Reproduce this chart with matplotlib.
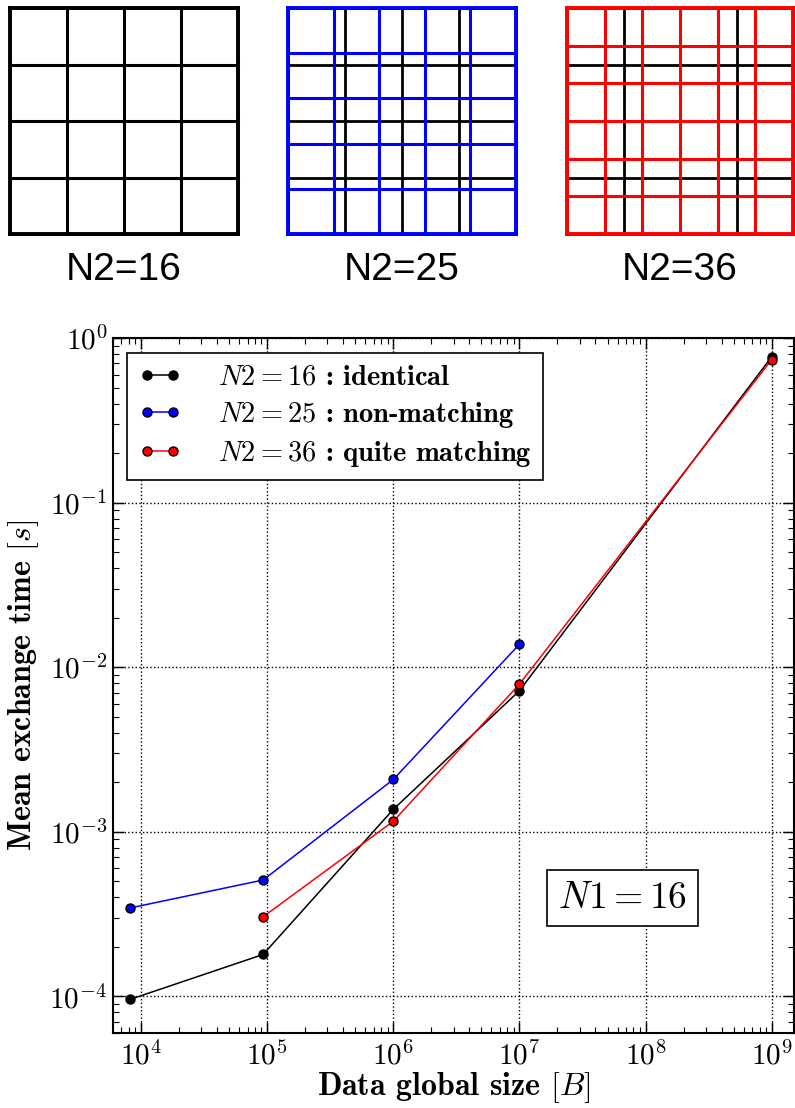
import math
import matplotlib
matplotlib.use("Agg")
import matplotlib.pyplot as plt
from matplotlib import ticker

plt.rcParams["mathtext.fontset"] = "cm"
plt.rcParams["font.family"] = ["cmb10", "DejaVu Serif"]
plt.rcParams["axes.unicode_minus"] = False

# Data
sizes = [8.2e3, 9.3e4, 1.0e6, 1.0e7, 1.0e9]
t_identical = [9.6e-5, 1.8e-4, 1.37e-3, 7.2e-3, 0.77]
sizes_nonmatch = [8.2e3, 9.3e4, 1.0e6, 1.0e7]
t_nonmatch = [3.45e-4, 5.1e-4, 2.08e-3, 1.38e-2]
sizes_quite = [9.3e4, 1.0e6, 1.0e7, 1.0e9]
t_quite = [3.05e-4, 1.16e-3, 7.9e-3, 0.74]

n1 = 4  # N1 = 16 -> 4x4
n2_side = [4, 5, 6]
n2_colors = ["black", "blue", "red"]
n2_labels = ["N2=16", "N2=25", "N2=36"]
legend_labels = [
    r"$N2=16$ : identical",
    r"$N2=25$ : non-matching",
    r"$N2=36$ : quite matching",
]

W, H = 795, 1108
fig = plt.figure(figsize=(W / 100, H / 100), dpi=100)

# Top: partition sketches
grid_boxes = [(10, 238), (288, 516), (567, 793)]
for (x0, x1), n, col, lab in zip(grid_boxes, n2_side, n2_colors, n2_labels):
    ax = fig.add_axes([x0 / W, 1 - 234 / H, (x1 - x0) / W, 226 / H])
    ax.set_xlim(0, 1)
    ax.set_ylim(0, 1)
    ax.axis("off")
    # reference partition N1 in black
    for i in range(n1 + 1):
        f = i / n1
        ax.plot([f, f], [0, 1], color="black", lw=2.0, clip_on=False)
        ax.plot([0, 1], [f, f], color="black", lw=2.0, clip_on=False)
    # N2 partition on top
    for i in range(n + 1):
        f = i / n
        lw = 2.8 if i in (0, n) else 2.2
        ax.plot([f, f], [0, 1], color=col, lw=lw, clip_on=False)
        ax.plot([0, 1], [f, f], color=col, lw=lw, clip_on=False)
    fig.text((x0 + x1) / 2 / W, 1 - 270 / H, lab, family="Liberation Sans",
             fontsize=28, ha="center", va="center")

# Bottom: timing plot
ax = fig.add_axes([113 / W, 1 - 1033 / H, 681 / W, 695 / H])
ax.loglog(sizes, t_identical, "-o", color="black", mfc="black", mec="black",
          ms=6.5, lw=1.1, label=legend_labels[0])
ax.loglog(sizes_nonmatch, t_nonmatch, "-o", color="blue", mfc="blue", mec="black",
          ms=6.5, lw=1.1, label=legend_labels[1])
ax.loglog(sizes_quite, t_quite, "-o", color="red", mfc="red", mec="black",
          ms=6.5, lw=1.1, label=legend_labels[2])

ax.set_xlim(6e3, 1.5e9)
ax.set_ylim(6e-5, 1)
pow_fmt = ticker.FuncFormatter(lambda v, p: r"$10^{%d}$" % round(math.log10(v)))
ax.xaxis.set_major_formatter(pow_fmt)
ax.yaxis.set_major_formatter(pow_fmt)
ax.xaxis.set_minor_formatter(ticker.NullFormatter())
ax.yaxis.set_minor_formatter(ticker.NullFormatter())
ax.grid(True, which="major", color="black", linestyle=":", lw=1.0)
ax.tick_params(which="both", direction="in", top=True, right=True, labelsize=21)
ax.tick_params(axis="x", pad=6)
ax.tick_params(axis="y", pad=4)
ax.tick_params(which="major", length=8, width=1.0)
ax.tick_params(which="minor", length=4, width=0.8)
for s in ax.spines.values():
    s.set_linewidth(1.5)

ax.set_xlabel(r"Data global size $[B]$", fontsize=23, labelpad=0)
ax.set_ylabel(r"Mean exchange time $[s]$", fontsize=23, labelpad=6)

leg = ax.legend(loc="upper left", bbox_to_anchor=(0.0206, 0.978), borderaxespad=0,
                fontsize=20.5, numpoints=2, handlelength=1.5, handletextpad=1.3,
                labelspacing=0.32, fancybox=False, framealpha=1)
leg.get_frame().set_edgecolor("black")
leg.get_frame().set_linewidth(1.2)

ax.text(0.748, 0.194, r"$N1=16$", transform=ax.transAxes, fontsize=27,
        ha="center", va="center",
        bbox=dict(boxstyle="square,pad=0.3", fc="white", ec="black", lw=1.2))

fig.savefig("out.png", dpi=100)
